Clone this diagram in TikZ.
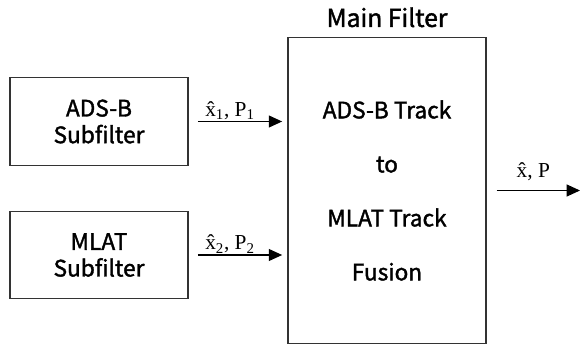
\documentclass[tikz,border=0pt]{standalone}
\usepackage{fontspec}
\setsansfont{Noto Sans CJK KR}[FakeBold=1.6]
\newfontfamily\tms{Liberation Serif}
\usetikzlibrary{arrows.meta,positioning}
\tikzset{
  box/.style={draw=black!80, line width=0.8pt, align=center, font=\sffamily\fontsize{17}{20}\selectfont, inner sep=0pt},
  subbox/.style={box, minimum width=133.5pt, minimum height=65.5pt},
  arrow/.style={-{Triangle[length=10pt,width=9pt]}, line width=0.8pt, draw=black},
  sig/.style={font=\tms\fontsize{16}{18}\selectfont, inner sep=1pt}
}
\begin{document}
\begin{tikzpicture}[x=0.75pt, y=-0.75pt]
  \useasboundingbox (0,0) rectangle (580,345);
  \node[subbox] (adsb) at (99,121.5) {ADS-B\\Subfilter};
  \node[subbox] (mlat) at (99,255) {MLAT\\Subfilter};
  \node[box, minimum width=148.5pt, minimum height=229pt, font=\sffamily\fontsize{17}{40.5}\selectfont] (main) at (387,190.5) {ADS-B Track\\to\\MLAT Track\\Fusion};
  \node[font=\sffamily\fontsize{18.5}{20}\selectfont, above=4pt of main] (title) {Main Filter};
  \coordinate (out) at (580,190.5);
  \draw[arrow, shorten <=7pt, shorten >=4pt] (adsb.east) -- (adsb.east -| main.west)
    node[sig, midway, above, xshift=-6pt] {\^x\textsubscript{1}, P\textsubscript{1}};
  \draw[arrow, shorten <=7pt, shorten >=4pt] (mlat.east) -- (mlat.east -| main.west)
    node[sig, midway, above, xshift=-6pt] {\^x\textsubscript{2}, P\textsubscript{2}};
  \draw[arrow, shorten <=7.5pt] (main.east) -- (out)
    node[sig, midway, above=6pt] {\^x, P};
\end{tikzpicture}
\end{document}
